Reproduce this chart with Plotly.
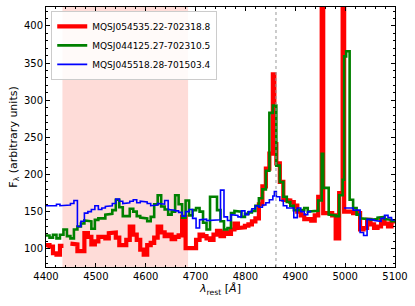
import plotly.graph_objects as go

# bin edges in Angstrom (last entry closes the final bin)
edges = [4400, 4407, 4414, 4421, 4428, 4435, 4442, 4449, 4456, 4463,
         4470, 4477, 4484, 4491, 4498, 4505, 4512, 4519, 4526, 4533,
         4540, 4547, 4554, 4561, 4568, 4575, 4582, 4589, 4596, 4603,
         4610, 4617, 4624, 4631, 4638, 4645, 4652, 4659, 4666, 4673,
         4680, 4687, 4694, 4701, 4708, 4715, 4722, 4729, 4736, 4743,
         4750, 4757, 4764, 4771, 4778, 4785, 4792, 4799, 4806, 4813,
         4820, 4827, 4834, 4841, 4848, 4855, 4858, 4862, 4869, 4876, 4883,
         4890, 4897, 4904, 4911, 4918, 4925, 4932, 4939, 4946, 4953, 4956,
         4960, 4967, 4974, 4981, 4988, 4995, 4998, 5002, 5009, 5016, 5023,
         5030, 5037, 5044, 5051, 5058, 5065, 5072, 5079, 5086, 5093, 5100]

flux_red = [105, 103, 94, 92, 104, None, None, 107, 106, 97,
            97, 121, 116, 106, 110, 116, 116, 114, 121, 122,
            115, 105, 105, 112, 130, 119, 112, 99, 92, 105,
            108, 115, 130, 122, 117, 119, 113, 116, 118, 143,
            101, 101, 101, 112, 119, 117, 114, 112, 119, 124,
            117, 122, 120, 126, 134, 128, 129, 131, 133, 137,
            141, 160, 184, 208, 228, 335, 241, 215, 190, 166, 165,
            163, 158, 150, 145, 140, 140, 138, 145, 170, 700, 148,
            148, 148, 145, 114, 175, 700, 150, 150, 150, 148, 148,
            126, 128, 139, 133, 128, 130, 139, 134, 130, 137]

flux_green = [118, 115, 119, 114, 119, 126, 117, 114, 126, 130,
              134, 138, 137, 127, 139, 141, 141, 146, 147, 152,
              166, 156, 144, 144, 154, 150, 144, 142, 141, 137,
              143, 160, 172, 157, 153, 146, 150, 172, 160, 142,
              165, 145, 152, 155, 150, 135, 126, 170, 170, 152,
              137, 126, 128, 148, 151, 150, 143, 147, 149, 151,
              158, 168, 180, 205, 283, 293, 293, 212, 190, 170, 163,
              158, 152, 151, 152, 155, 150, 150, 151, 165, 228, 182,
              182, 146, 145, 144, 172, 193, 359, 366, 166, 155, 146,
              141, 140, 140, 139, 140, 142, 143, 140, 139, 137]

flux_blue = [158, 157, 158, 160, 158, 158, 159, 161, 165, 130,
             137, 148, 150, 153, 158, 153, 155, 157, 158, 161,
             167, 164, 161, 162, 164, 166, 162, 164, 163, 161,
             158, 159, 161, 160, 165, 153, 152, 151, 149, 144,
             150, 153, 141, 128, 139, 140, 138, 139, 139, 139,
             179, 143, 138, 146, 145, 143, 151, 146, 150, 154,
             158, 156, 159, 162, 166, 171, 177, 170, 165, 158, 155,
             155, 142, 155, 150, 146, 150, None, None, None, None, None,
             None, None, None, None, None, None, 155, 155, 155, 152, 152,
             122, 118, 140, 139, 138, 137, 141, 145, 142, 139]

names = ["MQSJ054535.22-702318.8", "MQSJ044125.27-702310.5", "MQSJ045518.28-701503.4"]
colors = ["#ff0000", "#008000", "#0000ff"]
widths = [4.2, 2.6, 1.6]

shade_range = [4433, 4685]
hbeta = 4861.3


def steps(edge_list, ys):
    sx, sy = [], []
    for i, y in enumerate(ys):
        if y is None:
            sx.append(edge_list[i])
            sy.append(None)
        else:
            sx += [edge_list[i], edge_list[i + 1]]
            sy += [y, y]
    return sx, sy


fig = go.Figure()
for name, ys, c, lw in zip(names, [flux_red, flux_green, flux_blue], colors, widths):
    sx, sy = steps(edges, ys)
    fig.add_trace(go.Scatter(x=sx, y=sy, mode="lines", name=name,
                             line=dict(color=c, width=lw), connectgaps=False))

fig.add_shape(type="rect", xref="x", yref="paper", x0=shade_range[0], x1=shade_range[1],
              y0=0, y1=1, fillcolor="rgba(250,128,114,0.28)", line=dict(width=0), layer="below")
fig.add_shape(type="line", xref="x", yref="paper", x0=hbeta, x1=hbeta, y0=0, y1=1,
              line=dict(color="#999999", width=1, dash="dot"), layer="above")

axis_common = dict(showline=True, linecolor="black", linewidth=1, mirror="allticks",
                   ticks="inside", ticklen=4, tickwidth=1, tickcolor="black",
                   showgrid=False, zeroline=False, automargin=False,
                   tickfont=dict(family="DejaVu Sans", size=10, color="black"))

fig.update_xaxes(range=[4400, 5100], dtick=100, tick0=4400,
                 minor=dict(ticks="inside", dtick=20, ticklen=2, tickcolor="black"),
                 title=dict(text="<i>λ</i><sub>rest</sub> [<i>Å</i>]",
                            font=dict(family="DejaVu Sans", size=11, color="black"), standoff=3),
                 **axis_common)
fig.update_yaxes(range=[75.5, 425.5], dtick=50, tick0=0,
                 minor=dict(ticks="inside", dtick=10, ticklen=2, tickcolor="black"),
                 title=dict(text="F<sub>λ</sub> (arbitrary units)",
                            font=dict(family="DejaVu Sans", size=11, color="black"), standoff=4),
                 **axis_common)

fig.update_layout(
    width=415, height=306,
    margin=dict(l=46, r=20, t=7, b=39),
    plot_bgcolor="white", paper_bgcolor="white",
    font=dict(family="DejaVu Sans", color="black"),
    legend=dict(x=0.015, y=0.985, xanchor="left", yanchor="top",
                bgcolor="rgba(255,255,255,0.85)", bordercolor="#cccccc", borderwidth=1,
                font=dict(family="DejaVu Sans", size=9, color="black"),
                tracegroupgap=0, itemwidth=30),
)

fig.write_html("out.html", config={"displayModeBar": False},
               post_script="document.body.style.margin='0px';")
